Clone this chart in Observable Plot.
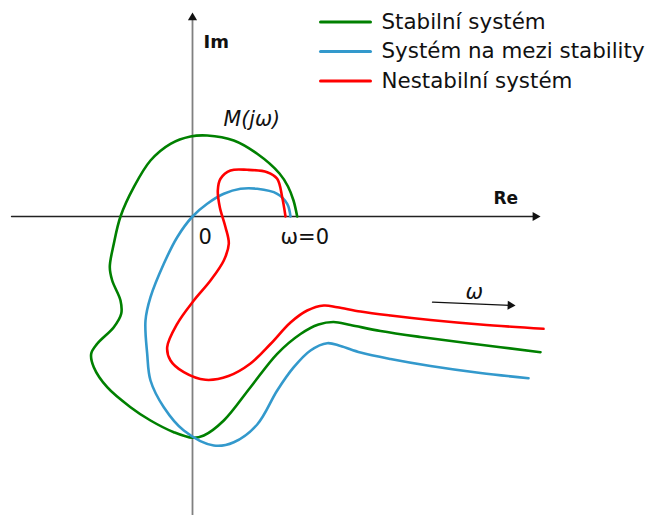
<!DOCTYPE html>
<html>
<head>
<meta charset="utf-8">
<script src="https://cdn.jsdelivr.net/npm/d3@7"></script>
<script src="https://cdn.jsdelivr.net/npm/@observablehq/plot@0.6"></script>
<style>
  html, body { margin: 0; padding: 0; background: #fff; }
  #chart svg { display: block; }
</style>
</head>
<body>
<div id="chart"></div>
<script>
// Nyquist plots M(jω) in the complex plane (Re, Im) for three systems.
const series = ["Stabilní systém", "Systém na mezi stability", "Nestabilní systém"];
const colors = ["#008000", "#3399cc", "#ff0000"];

// [Re, Im] samples along each locus, from ω = 0 towards rising ω
const stable = [
  [1.047, 0], [1.01, 0.16], [0.955, 0.30], [0.87, 0.43], [0.647, 0.627],
  [0.413, 0.76], [0.147, 0.81], [-0.02, 0.80], [-0.22, 0.727], [-0.42, 0.56],
  [-0.587, 0.293], [-0.72, 0], [-0.787, -0.273], [-0.827, -0.507], [-0.803, -0.64],
  [-0.72, -0.84], [-0.713, -0.973], [-0.787, -1.107], [-0.953, -1.273], [-1.013, -1.373],
  [-0.987, -1.507], [-0.853, -1.707], [-0.62, -1.907], [-0.42, -2.04], [-0.187, -2.157],
  [0, -2.213], [0.113, -2.19], [0.313, -2.04], [0.58, -1.707], [0.847, -1.373],
  [1.08, -1.175], [1.26, -1.08], [1.41, -1.055], [1.58, -1.085], [1.88, -1.145],
  [2.28, -1.205], [2.78, -1.27], [3.48, -1.357]
];
const marginal = [
  [0.98, 0], [0.947, 0.127], [0.847, 0.227], [0.647, 0.277], [0.48, 0.277],
  [0.313, 0.227], [0.147, 0.127], [0, 0], [-0.153, -0.207], [-0.287, -0.473],
  [-0.42, -0.807], [-0.47, -1.04], [-0.453, -1.373], [-0.42, -1.64], [-0.287, -1.907],
  [-0.087, -2.14], [0.213, -2.29], [0.413, -2.257], [0.647, -2.08], [0.847, -1.74],
  [1.013, -1.507], [1.18, -1.34], [1.347, -1.267], [1.48, -1.295], [1.68, -1.36],
  [1.98, -1.425], [2.38, -1.495], [2.88, -1.565], [3.36, -1.617]
];
const unstable = [
  [0.93, 0], [0.897, 0.193], [0.847, 0.377], [0.747, 0.443], [0.547, 0.467],
  [0.38, 0.46], [0.28, 0.377], [0.253, 0.26], [0.273, 0.093], [0.33, -0.107],
  [0.363, -0.273], [0.313, -0.44], [0.18, -0.64], [0.013, -0.84], [-0.153, -1.073],
  [-0.253, -1.307], [-0.22, -1.44], [-0.087, -1.557], [0.13, -1.633], [0.36, -1.595],
  [0.58, -1.47], [0.78, -1.275], [0.98, -1.06], [1.147, -0.94], [1.313, -0.89],
  [1.447, -0.907], [1.68, -0.95], [1.98, -0.99], [2.38, -1.035], [2.88, -1.08],
  [3.51, -1.123]
];

// Axis extents and the direction-of-ω arrow, in Re/Im units
const reAxis = [-1.81, 3.48];
const imAxis = [-2.99, 2.04];
const omegaArrow = [[2.40, -0.857], [3.23, -0.89]];

const curves = [stable, marginal, unstable].map((pts, i) =>
  pts.map(([re, im]) => ({re, im, name: series[i]}))
).flat();

const font = "DejaVu Sans, Verdana, sans-serif";
const head = 0.052; // triangle centre sits this far behind its tip

// Legend rows (drawn inside the plot, top right)
const legendRows = series.map((name, i) => ({name, color: colors[i], im: 1.945 - 0.295 * i}));

const plot = Plot.plot({
  width: 655,
  height: 515,
  margin: 0,
  style: {fontFamily: font, background: "#fff"},
  x: {domain: [-1.92, 4.63], axis: null},
  y: {domain: [-2.99, 2.16], axis: null},
  color: {domain: series, range: colors},
  marks: [
    // Im axis (grey) and Re axis (black)
    Plot.line([[0, imAxis[0]], [0, imAxis[1] - head]], {stroke: "#808080", strokeWidth: 1.8}),
    Plot.line([[reAxis[0], 0], [reAxis[1] - head, 0]], {stroke: "#222", strokeWidth: 1.3}),
    Plot.dot([[0, imAxis[1] - head]], {symbol: "triangle", r: 3.4, fill: "#111", stroke: null}),
    Plot.dot([[reAxis[1] - head, 0]], {symbol: "triangle", r: 3.4, fill: "#111", stroke: null, rotate: 90}),

    // The three loci
    Plot.line(curves, {x: "re", y: "im", z: "name", stroke: "name", strokeWidth: 2.6, curve: "catmull-rom"}),

    // Direction of increasing ω
    Plot.line([omegaArrow[0], [omegaArrow[1][0] - head, omegaArrow[1][1] + 0.002]], {stroke: "#111", strokeWidth: 1.3}),
    Plot.dot([[omegaArrow[1][0] - head, omegaArrow[1][1] + 0.002]], {symbol: "triangle", r: 3.4, fill: "#111", stroke: null, rotate: 92}),

    // Labels
    Plot.text(["Im"], {x: 0.11, y: 1.69, text: d => d, textAnchor: "start", lineAnchor: "bottom", fontSize: 18, fontWeight: "bold", fill: "#111"}),
    Plot.text(["Re"], {x: 3.01, y: 0.13, text: d => d, textAnchor: "start", lineAnchor: "bottom", fontSize: 17, fontWeight: "bold", fill: "#111"}),
    Plot.text(["M(jω)"], {x: 0.31, y: 0.91, text: d => d, textAnchor: "start", lineAnchor: "bottom", fontSize: 20.5, fontStyle: "italic", fill: "#111"}),
    Plot.text(["0"], {x: 0.06, y: -0.27, text: d => d, textAnchor: "start", lineAnchor: "bottom", fontSize: 21, fill: "#111"}),
    Plot.text(["ω=0"], {x: 0.88, y: -0.27, text: d => d, textAnchor: "start", lineAnchor: "bottom", fontSize: 21, fill: "#111"}),
    Plot.text(["ω"], {x: 2.73, y: -0.82, text: d => d, textAnchor: "start", lineAnchor: "bottom", fontSize: 21, fontStyle: "italic", fill: "#111"}),

    // Legend
    Plot.line(legendRows.flatMap(d => [{x: 1.28, y: d.im, name: d.name}, {x: 1.78, y: d.im, name: d.name}]),
      {x: "x", y: "y", z: "name", stroke: "name", strokeWidth: 3}),
    Plot.text(legendRows, {x: 1.89, y: "im", text: "name", textAnchor: "start", lineAnchor: "middle", fontSize: 21.4, fill: "#111"})
  ]
});

document.getElementById("chart").appendChild(plot);
</script>
</body>
</html>
